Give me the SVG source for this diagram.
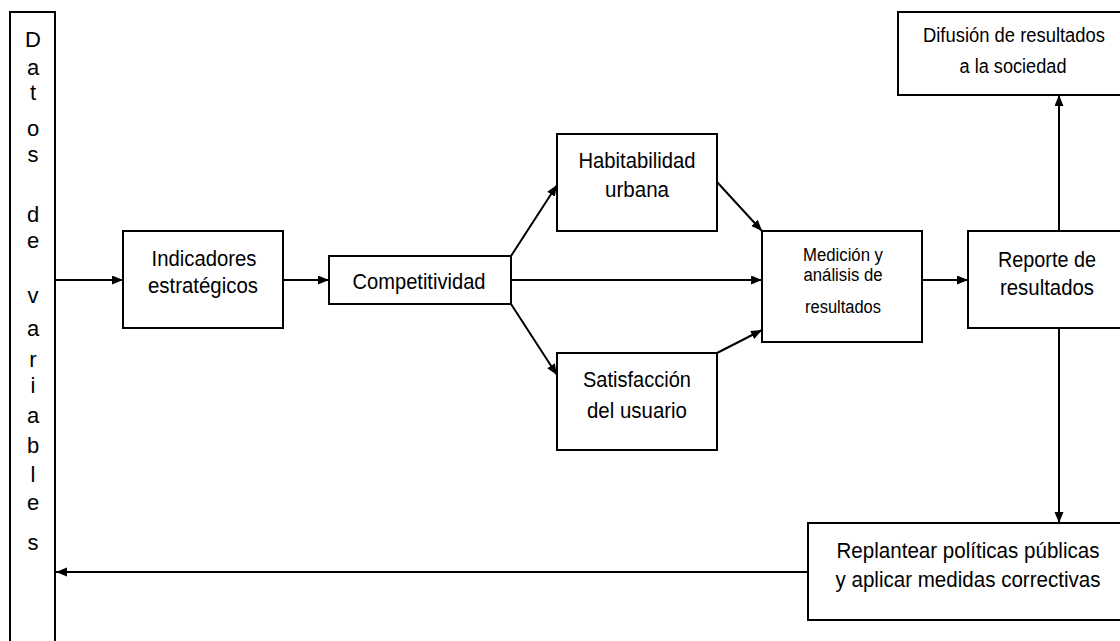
<svg xmlns="http://www.w3.org/2000/svg" width="1120" height="641" viewBox="0 0 1120 641">
<defs>
<marker id="ah" markerUnits="userSpaceOnUse" markerWidth="12" markerHeight="10" refX="11" refY="4.5" orient="auto">
<path d="M0,0 L11,4.5 L0,9 z" fill="#000"/>
</marker>
<style>
rect{fill:#fff;stroke:#000;stroke-width:2}
text{font-family:"Liberation Sans",Arial,sans-serif;font-size:22px;fill:#000;text-anchor:middle}
.sm{font-size:18px}
.md{font-size:19.5px}
.col{font-size:22px}
#connectors line{stroke:#000;stroke-width:2;fill:none}
</style>
</defs>
<rect width="1120" height="641" style="fill:#fff;stroke:none"/>
<g id="datos">
<rect x="10" y="12" width="45" height="650"/>
<text class="col" x="33" y="47">D</text>
<text class="col" x="33" y="75">a</text>
<text class="col" x="33" y="100">t</text>
<text class="col" x="33" y="136">o</text>
<text class="col" x="33" y="162">s</text>
<text class="col" x="33" y="222">d</text>
<text class="col" x="33" y="248">e</text>
<text class="col" x="33" y="303">v</text>
<text class="col" x="33" y="336">a</text>
<text class="col" x="33" y="367">r</text>
<text class="col" x="33" y="393">i</text>
<text class="col" x="33" y="423">a</text>
<text class="col" x="33" y="453">b</text>
<text class="col" x="33" y="482">l</text>
<text class="col" x="33" y="510">e</text>
<text class="col" x="33" y="550">s</text>
</g>
<g id="indicadores">
<rect x="123" y="231" width="160" height="97"/>
<text x="204" y="266" textLength="105" lengthAdjust="spacingAndGlyphs">Indicadores</text>
<text x="203" y="293" textLength="110" lengthAdjust="spacingAndGlyphs">estratégicos</text>
</g>
<g id="competitividad">
<rect x="329" y="256" width="182" height="48"/>
<text x="419" y="289" textLength="133" lengthAdjust="spacingAndGlyphs">Competitividad</text>
</g>
<g id="habitabilidad">
<rect x="557" y="134" width="160" height="97"/>
<text x="637" y="168" textLength="117" lengthAdjust="spacingAndGlyphs">Habitabilidad</text>
<text x="637" y="197" textLength="64" lengthAdjust="spacingAndGlyphs">urbana</text>
</g>
<g id="satisfaccion">
<rect x="557" y="353" width="160" height="97"/>
<text x="637" y="387" textLength="108" lengthAdjust="spacingAndGlyphs">Satisfacción</text>
<text x="637" y="418" textLength="100" lengthAdjust="spacingAndGlyphs">del usuario</text>
</g>
<g id="medicion">
<rect x="762" y="231" width="160" height="111"/>
<text class="sm" x="843" y="261" textLength="80" lengthAdjust="spacingAndGlyphs">Medición y</text>
<text class="sm" x="843" y="281" textLength="79" lengthAdjust="spacingAndGlyphs">análisis de</text>
<text class="sm" x="843" y="313" textLength="76" lengthAdjust="spacingAndGlyphs">resultados</text>
</g>
<g id="reporte">
<rect x="968" y="231" width="160" height="97"/>
<text x="1047" y="267" textLength="98" lengthAdjust="spacingAndGlyphs">Reporte de</text>
<text x="1047" y="295" textLength="94" lengthAdjust="spacingAndGlyphs">resultados</text>
</g>
<g id="difusion">
<rect x="898" y="12" width="230" height="83"/>
<text class="md" x="1014" y="42" textLength="182" lengthAdjust="spacingAndGlyphs">Difusión de resultados</text>
<text class="md" x="1013" y="73" textLength="107" lengthAdjust="spacingAndGlyphs">a la sociedad</text>
</g>
<g id="replantear">
<rect x="808" y="523" width="320" height="97"/>
<text x="968" y="558" textLength="263" lengthAdjust="spacingAndGlyphs">Replantear políticas públicas</text>
<text x="968" y="587" textLength="265" lengthAdjust="spacingAndGlyphs">y aplicar medidas correctivas</text>
</g>
<g id="connectors">
<line x1="55" y1="280" x2="123" y2="280" marker-end="url(#ah)"/>
<line x1="283" y1="280" x2="329" y2="280" marker-end="url(#ah)"/>
<line x1="511" y1="256" x2="557" y2="185" marker-end="url(#ah)"/>
<line x1="511" y1="280" x2="762" y2="280" marker-end="url(#ah)"/>
<line x1="511" y1="304" x2="557" y2="375" marker-end="url(#ah)"/>
<line x1="717" y1="182" x2="762" y2="231" marker-end="url(#ah)"/>
<line x1="717" y1="353" x2="762" y2="330" marker-end="url(#ah)"/>
<line x1="922" y1="280" x2="968" y2="280" marker-end="url(#ah)"/>
<line x1="1059" y1="231" x2="1059" y2="95" marker-end="url(#ah)"/>
<line x1="1059" y1="328" x2="1059" y2="523" marker-end="url(#ah)"/>
<line x1="808" y1="572" x2="56" y2="572" marker-end="url(#ah)"/>
</g>
</svg>
